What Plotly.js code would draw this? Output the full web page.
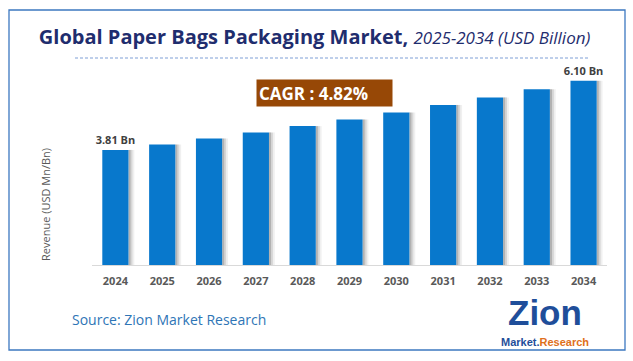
<!DOCTYPE html>
<html>
<head>
<meta charset="utf-8">
<script src="https://cdn.plot.ly/plotly-3.0.1.min.js"></script>
<style>html,body{margin:0;padding:0;background:#fff;}#chart{width:633px;height:361px;}</style>
</head>
<body>
<div id="chart"></div>
<script>
// ---- data ----
const years = ['2024','2025','2026','2027','2028','2029','2030','2031','2032','2033','2034'];
const revenue = [3.81, 3.99, 4.19, 4.39, 4.60, 4.82, 5.05, 5.30, 5.55, 5.82, 6.10];
const labelIdx = [0, 10];
const cagrText = 'CAGR : 4.82%';
const titleMain = 'Global Paper Bags Packaging Market,';
const titleSub = '2025-2034 (USD Billion)';
const yTitle = 'Revenue (USD Mn/Bn)';
const sourceText = 'Source: Zion Market Research';

// ---- layout helpers ----
const W = 633, H = 361, ML = 92, MR = 26, MT = 70, MB = 96;
const PW = W - ML - MR, PH = H - MT - MB;
const px = x => (x - ML) / PW;
const py = y => (H - MB - y) / PH;
const FONT = 'Open Sans, Noto Sans, sans-serif';

const barText = revenue.map((v, i) => labelIdx.includes(i) ? v.toFixed(2) + ' Bn' : '');

const shadowSpec = [
  {off: 0.28, w: 0.045, c: 'rgba(0,0,0,0.30)'},
  {off: 0.325, w: 0.04, c: 'rgba(0,0,0,0.16)'},
  {off: 0.365, w: 0.04, c: 'rgba(0,0,0,0.06)'}
];
const traces = shadowSpec.map(s => ({
  type: 'bar', x: years, y: revenue, offset: s.off, width: s.w,
  marker: {color: s.c, line: {width: 0}}, hoverinfo: 'skip', showlegend: false
}));
traces.push({
  type: 'bar', x: years, y: revenue, width: 0.56,
  marker: {color: '#0878CC', line: {width: 0}},
  text: barText, textposition: 'outside', cliponaxis: false, constraintext: 'none',
  textfont: {family: FONT, size: 11, color: '#404040', weight: 'bold'},
  showlegend: false
});

const layout = {
  width: W, height: H,
  margin: {l: ML, r: MR, t: MT, b: MB},
  paper_bgcolor: '#fff', plot_bgcolor: '#fff',
  barmode: 'overlay',
  showlegend: false,
  title: {
    text: '<b>' + titleMain + '</b> <i><span style="font-size:17px">' + titleSub + '</span></i>',
    font: {family: FONT, size: 20, color: '#1F2D6E'},
    xref: 'container', x: 0.497, xanchor: 'center',
    yref: 'container', y: 1 - 37 / H, yanchor: 'middle'
  },
  xaxis: {
    type: 'category', showline: true, linecolor: '#D9D9D9', linewidth: 1,
    ticks: '', showgrid: false, zeroline: false, ticklabelstandoff: 6,
    tickfont: {family: FONT, size: 11, color: '#595959', weight: 'bold'},
    range: [-0.5, 10.5]
  },
  yaxis: {
    range: [0, PH / 30.2], showgrid: false, zeroline: false,
    showticklabels: false, showline: false, ticks: ''
  },
  shapes: [
    {type: 'rect', xref: 'paper', yref: 'paper', x0: px(9), x1: px(625), y0: py(350), y1: py(10),
     line: {color: '#3C78C0', width: 1.3}, fillcolor: 'rgba(0,0,0,0)'},
    {type: 'line', xref: 'paper', yref: 'paper', x0: px(75), x1: px(590), y0: py(58), y1: py(58),
     line: {color: '#7F9FD6', width: 1, dash: '3px,2px'}}
  ],
  annotations: [
    {text: '<b>' + cagrText + '</b>', xref: 'paper', yref: 'paper', x: px(324.5), y: py(92.5),
     xanchor: 'center', yanchor: 'middle', showarrow: false, align: 'left',
     width: 131, height: 22, borderpad: 2, bgcolor: '#974806',
     font: {family: FONT, size: 17, color: '#ffffff'}},
    {text: yTitle, xref: 'paper', yref: 'paper', x: px(45), y: py(205), textangle: -90,
     xanchor: 'center', yanchor: 'middle', showarrow: false,
     font: {family: FONT, size: 11, color: '#595959'}},
    {text: sourceText, xref: 'paper', yref: 'paper', x: px(70), y: py(319),
     xanchor: 'left', yanchor: 'middle', showarrow: false,
     font: {family: FONT, size: 14, color: '#2E75B6'}},
    {text: '<b>Zion</b>', xref: 'paper', yref: 'paper', x: px(545), y: py(312),
     xanchor: 'center', yanchor: 'middle', showarrow: false,
     font: {family: 'Liberation Sans, Arial, sans-serif', size: 35, color: '#1F4E9A'}},
    {text: '<b><span style="color:#1F4E9A">Market</span>.<span style="color:#E0701C">Research</span></b>',
     xref: 'paper', yref: 'paper', x: px(545), y: py(342),
     xanchor: 'center', yanchor: 'middle', showarrow: false,
     font: {family: 'Liberation Sans Narrow, Liberation Sans, sans-serif', size: 11, color: '#1F4E9A'}}
  ]
};

Plotly.newPlot('chart', traces, layout, {displayModeBar: false, staticPlot: true});
</script>
</body>
</html>
